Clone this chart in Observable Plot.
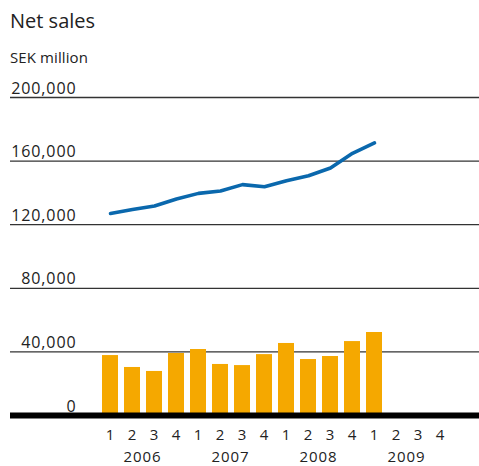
<!DOCTYPE html>
<html>
<head>
<meta charset="utf-8">
<script src="https://cdn.jsdelivr.net/npm/d3@7"></script>
<script src="https://cdn.jsdelivr.net/npm/@observablehq/plot@0.6"></script>
<style>
  html, body { margin: 0; padding: 0; background: #fff; }
  body { position: relative; width: 479px; height: 466px; overflow: hidden; font-family: "Open Sans", sans-serif; color: #222; }
  #title { position: absolute; left: 10px; top: 7px; font-size: 20px; line-height: normal; }
  #subtitle { position: absolute; left: 10px; top: 47px; font-size: 15px; line-height: normal; letter-spacing: 0.1px; }
  #chart { position: absolute; left: 0; top: 66px; }
  #chart svg text { letter-spacing: 0.9px; }
</style>
</head>
<body>
<div id="title">Net sales</div>
<div id="subtitle">SEK million</div>
<div id="chart"></div>
<script>
const years = ["2006", "2007", "2008", "2009"];
const quarterLabels = ["1", "2", "3", "4"];
const quarters = years.flatMap(y => quarterLabels.map(q => `${y} Q${q}`));
// Quarterly net sales (bars), 2006 Q1 – 2009 Q1
const quarterlySales = [37700, 30200, 27700, 39000, 41500, 32100, 31400, 38300, 45300, 35200, 37100, 46500, 52200];
// Rolling 12-month net sales (line)
const rollingSales = [127100, 129500, 131800, 136200, 139700, 141200, 145200, 143900, 147700, 150800, 155700, 164900, 171400];
const yTicks = [0, 40000, 80000, 120000, 160000, 200000];

const bars = quarterlySales.map((v, i) => ({q: quarters[i], v}));
const line = rollingSales.map((v, i) => ({q: quarters[i], v}));
const qTicks = quarters.map((q, i) => ({q, label: quarterLabels[i % 4]}));
const yearTicks = years.map(y => ({q: `${y} Q2`, label: y}));

const chart = Plot.plot({
  width: 479,
  height: 400,
  marginTop: 31,
  marginBottom: 51,
  marginLeft: 96,
  marginRight: 25,
  style: {fontFamily: "Open Sans", color: "#222", background: "white"},
  x: {domain: quarters, padding: 0.27, axis: null},
  y: {domain: [0, 200000], axis: null},
  marks: [
    Plot.ruleY(yTicks.filter(d => d > 0), {stroke: "#333", strokeWidth: 1.3, insetLeft: -86, insetRight: -25}),
    Plot.barY(bars, {x: "q", y: "v", fill: "#f5a800"}),
    Plot.ruleY([0], {stroke: "#000", strokeWidth: 6, insetLeft: -86, insetRight: -25}),
    Plot.lineY(line, {x: "q", y: "v", stroke: "#0a68ad", strokeWidth: 3.6, curve: "linear"}),
    Plot.text(yTicks, {
      y: d => d, text: d => d3.format(",")(d),
      frameAnchor: "left", dx: -20, textAnchor: "end", lineAnchor: "bottom", dy: -4,
      fontSize: 16, fill: "#222"
    }),
    Plot.text(qTicks, {x: "q", text: "label", frameAnchor: "bottom", dy: 20, lineAnchor: "middle", fontSize: 15, fill: "#222"}),
    Plot.text(yearTicks, {x: "q", text: "label", frameAnchor: "bottom", dx: 10, dy: 42, lineAnchor: "middle", fontSize: 15, fill: "#222"})
  ]
});
document.getElementById("chart").appendChild(chart);
</script>
</body>
</html>
